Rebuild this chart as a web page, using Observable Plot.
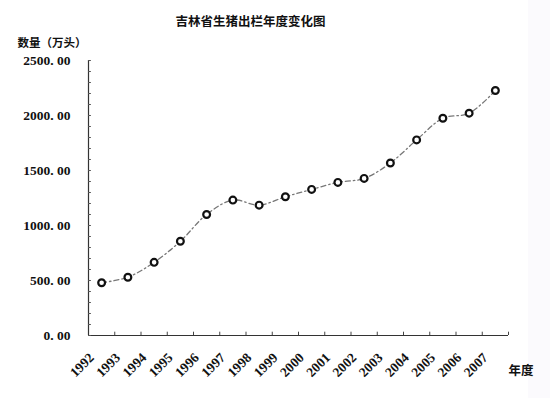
<!DOCTYPE html>
<html>
<head>
<meta charset="utf-8">
<script src="https://cdn.jsdelivr.net/npm/d3@7"></script>
<script src="https://cdn.jsdelivr.net/npm/@observablehq/plot@0.6"></script>
<style>
  html, body { margin: 0; padding: 0; background: #fff; }
  #wrap { position: relative; width: 550px; height: 398px; overflow: hidden; }
  #band { position: absolute; left: 528px; top: 0; width: 22px; height: 398px; background: #fbfafd; }
  #chart { position: absolute; left: 0; top: 0; }
</style>
</head>
<body>
<div id="wrap"><div id="band"></div><div id="chart"></div></div>
<script>
const title = "吉林省生猪出栏年度变化图";
const yTitle = "数量（万头）";
const xTitle = "年度";
const years = [1992, 1993, 1994, 1995, 1996, 1997, 1998, 1999, 2000, 2001, 2002, 2003, 2004, 2005, 2006, 2007];
const values = [480, 530, 665, 857, 1100, 1231, 1185, 1261, 1328, 1392, 1428, 1568, 1778, 1975, 2021, 2227];
const yTicks = [0, 500, 1000, 1500, 2000, 2500];
const yMinor = d3.range(0, 2501, 100);

const data = years.map((y, i) => ({year: y, value: values[i]}));
const boundaries = years.map(y => y + 0.5);
const x0 = years[0] - 0.5;
const x1 = years[years.length - 1] + 0.5;

const numFont = "'Liberation Serif', serif";
const cjkFont = "'Noto Sans CJK SC', sans-serif";

const chart = Plot.plot({
  width: 550,
  height: 398,
  marginLeft: 88,
  marginRight: 42,
  marginTop: 60,
  marginBottom: 63,
  style: {background: "transparent", overflow: "visible"},
  x: {type: "linear", domain: [x0, x1], axis: null},
  y: {domain: [0, 2500], axis: null},
  marks: [
    Plot.ruleX([x0], {y1: 0, y2: 2500, stroke: "#333", strokeWidth: 1.2}),
    Plot.ruleY([0], {x1: x0, x2: x1, stroke: "#333", strokeWidth: 1.2}),
    Plot.ruleY(yMinor, {y: d => d, x1: x0, x2: x0 + 0.11, stroke: "#555", strokeWidth: 1}),
    Plot.ruleX(boundaries, {x: d => d, y1: 0, y2: 30, stroke: "#444", strokeWidth: 1}),
    Plot.text(yTicks, {x: x0, y: d => d, text: d => d.toFixed(2).replace(".", ". "), textAnchor: "end", dx: -18,
      fontFamily: numFont, fontWeight: "bold", fontSize: 13.5, fill: "#111"}),
    Plot.text(years, {x: d => d, y: 0, text: d => String(d), rotate: -45, textAnchor: "end", dx: -10, dy: 20,
      fontFamily: numFont, fontWeight: "bold", fontSize: 13.5, fill: "#111"}),
    Plot.line(data, {x: "year", y: "value", curve: "catmull-rom", stroke: "#777", strokeWidth: 1.3,
      strokeDasharray: "5,3,1.5,3"}),
    Plot.dot(data, {x: "year", y: "value", r: 3.4, stroke: "#111", strokeWidth: 2.2, fill: "#fff"}),
    Plot.text([title], {frameAnchor: "top", dy: -43, dx: -48, text: d => d, fontFamily: cjkFont, fontWeight: "bold", fontSize: 12.5, fill: "#111"}),
    Plot.text([yTitle], {frameAnchor: "top-left", dx: -71, dy: -22, text: d => d, textAnchor: "start", fontFamily: cjkFont, fontWeight: "bold", fontSize: 11.5, fill: "#111"}),
    Plot.text([xTitle], {frameAnchor: "bottom-right", dx: 25, dy: 39, text: d => d, textAnchor: "end", fontFamily: cjkFont, fontWeight: "bold", fontSize: 12.5, fill: "#111"})
  ]
});
document.getElementById("chart").appendChild(chart);
</script>
</body>
</html>
